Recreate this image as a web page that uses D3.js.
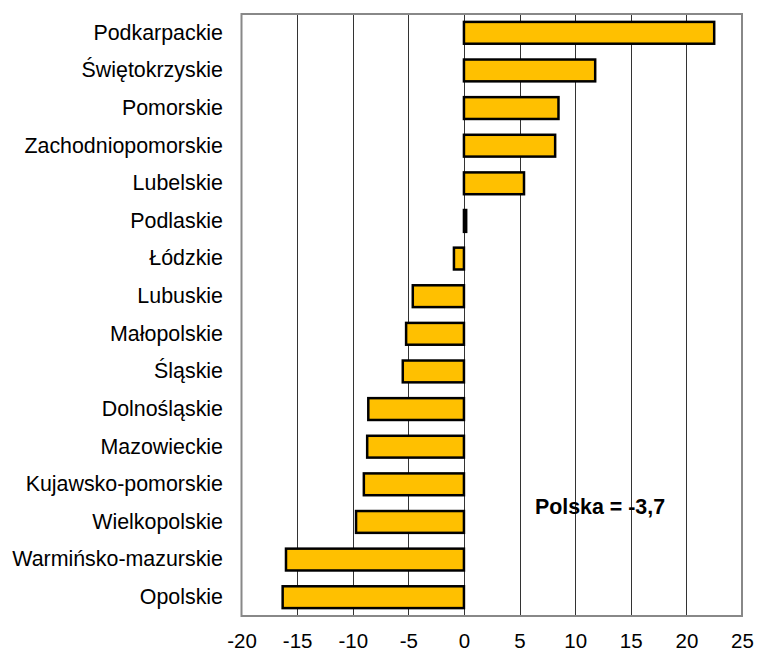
<!DOCTYPE html>
<html>
<head>
	<meta charset="utf-8">
	<script src="https://d3js.org/d3.v7.min.js" charset="utf-8"></script>
	<style>
		body { margin: 0; background: #fff; }
		text { font-family: "Liberation Sans", Arial, sans-serif; }
	</style>
</head>
<body>
	<svg width="757" height="652"></svg>
	<script>
		var regions = ["Podkarpackie", "Świętokrzyskie", "Pomorskie", "Zachodniopomorskie", "Lubelskie",
			"Podlaskie", "Łódzkie", "Lubuskie", "Małopolskie", "Śląskie", "Dolnośląskie", "Mazowieckie",
			"Kujawsko-pomorskie", "Wielkopolskie", "Warmińsko-mazurskie", "Opolskie"];
		var values = [22.5, 11.8, 8.5, 8.2, 5.4, 0.2, -0.9, -4.6, -5.2, -5.5, -8.6, -8.7, -9.0, -9.7, -16.0, -16.3];
		var xTicks = [-20, -15, -10, -5, 0, 5, 10, 15, 20, 25];
		var note = "Polska = -3,7";

		const plotL = 241.5, plotR = 742, plotT = 14, plotB = 616;
		const tickFont = 20.5, labelFont = 21.4;
		var svg = d3.select('svg');

		const xScale = d3.scaleLinear().domain([-20, 25]).range([plotL, plotR]);
		const yScale = d3.scaleBand().domain(regions).range([plotT, plotB]).paddingInner(0.42).paddingOuter(0.21);

		// grid lines
		svg.append('g').selectAll('line')
			.data(xTicks.slice(1, -1))
			.enter().append('line')
			.attr('x1', d => Math.round(xScale(d)) + 0.5)
			.attr('x2', d => Math.round(xScale(d)) + 0.5)
			.attr('y1', plotT).attr('y2', plotB)
			.attr('stroke', '#333').attr('stroke-width', 1);

		// frame
		svg.append('rect')
			.attr('x', plotL).attr('y', plotT)
			.attr('width', plotR - plotL).attr('height', plotB - plotT)
			.attr('fill', 'none').attr('stroke', '#888').attr('stroke-width', 2);

		// bars
		svg.append('g').selectAll('rect')
			.data(values)
			.enter().append('rect')
			.attr('x', d => xScale(Math.min(0, d)))
			.attr('y', (d, i) => yScale(regions[i]))
			.attr('width', d => Math.abs(xScale(d) - xScale(0)))
			.attr('height', yScale.bandwidth())
			.attr('fill', '#FFC000')
			.attr('stroke', '#000').attr('stroke-width', 2.5);

		// x axis labels
		const xAxis = svg.append('g')
			.attr('transform', `translate(0, ${plotB})`)
			.call(d3.axisBottom(xScale).tickValues(xTicks).tickSize(0).tickPadding(17).tickFormat(d => String(d)));
		xAxis.select('.domain').remove();
		xAxis.selectAll('text').attr('font-size', tickFont).attr('fill', '#000')
			.attr('font-family', '"Liberation Sans", Arial, sans-serif');

		// y axis labels
		const yAxis = svg.append('g')
			.attr('transform', `translate(${plotL}, 0)`)
			.call(d3.axisLeft(yScale).tickSize(0).tickPadding(18.5));
		yAxis.select('.domain').remove();
		yAxis.selectAll('text').attr('font-size', labelFont).attr('fill', '#000')
			.attr('font-family', '"Liberation Sans", Arial, sans-serif');

		svg.append('text')
			.attr('x', 600).attr('y', 514)
			.attr('text-anchor', 'middle')
			.attr('font-size', labelFont).attr('font-weight', 'bold')
			.text(note);
	</script>
</body>
</html>
